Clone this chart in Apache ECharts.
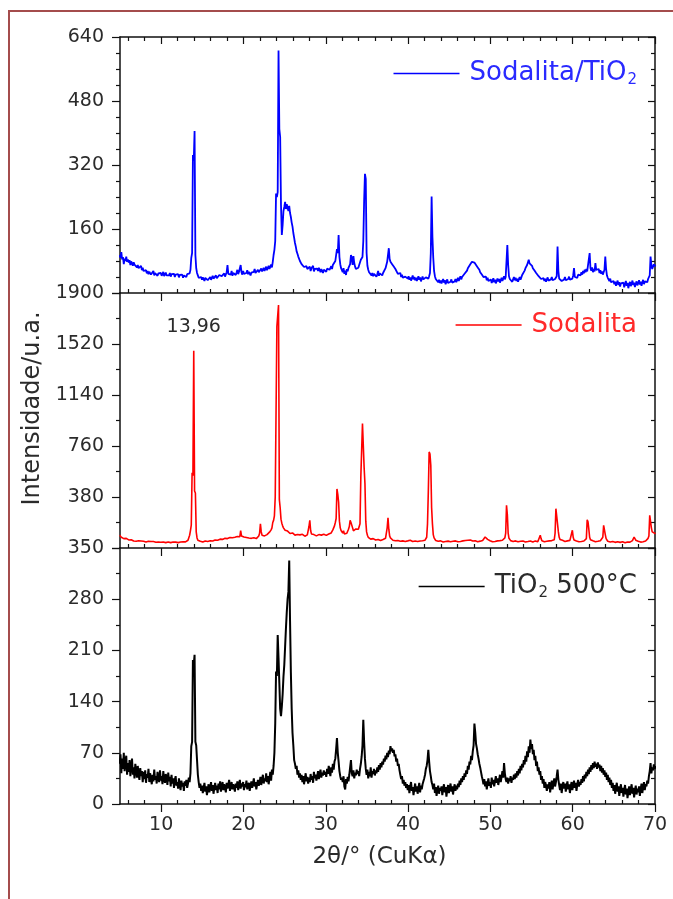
<!DOCTYPE html>
<html>
<head>
<meta charset="utf-8">
<script src="https://cdn.jsdelivr.net/npm/echarts@6/dist/echarts.min.js"></script>
<style>
  html, body { margin: 0; padding: 0; background: #ffffff; }
  #chart { width: 673px; height: 899px; }
</style>
</head>
<body>
<div id="chart"></div>
<script>
// Diffraction angle sampling: first point and step (degrees 2θ)
const twoThetaStart = 4.96;
const twoThetaStep = 0.1;

// Angle ticks
const xMajorTicks = [10, 20, 30, 40, 50, 60, 70];
const xMinorTicks = [6, 8, 12, 14, 16, 18, 22, 24, 26, 28, 32, 34, 36, 38, 42, 44, 46, 48,
                     52, 54, 56, 58, 62, 64, 66, 68];

// Intensity ranges of the three stacked panels (top to bottom)
const yMax = [640, 1900, 350];
const yStep = [160, 380, 70];
const yMinorSplit = [4, 2, 2];

const seriesNames = ['Sodalita/TiO2', 'Sodalita', 'TiO2 500°C'];
const seriesColors = ['#0000ff', '#ff0000', '#000000'];
const legendColors = ['#2a2aff', '#ff2a2a', '#2b2b2b'];

// Labelled sodalite reflection (2θ)
const peakAngle = 13.96;

// Sodalita/TiO2 pattern, one row per degree (x.0 … x.9)
const sodalitaTiO2 = [
  95, 88, 102, 84, 90, 72, 86, 80, 91, 78,       // 5
  84, 76, 82, 70, 79, 74, 68, 77, 71, 66,        // 6
  73, 64, 70, 62, 66, 59, 68, 57, 63, 55,        // 7
  60, 52, 57, 49, 55, 47, 53, 58, 46, 51,        // 8
  48, 55, 44, 50, 46, 53, 43, 49, 52, 45,        // 9
  50, 43, 48, 53, 42, 47, 51, 44, 49, 46,        // 10
  44, 50, 41, 47, 52, 43, 48, 40, 46, 50,        // 11
  42, 47, 39, 45, 49, 41, 46, 38, 44, 48,        // 12
  43, 40, 47, 42, 45, 49, 58, 88, 100, 345,      // 13
  330, 405, 95, 62, 50, 44, 38, 42, 35, 40,      // 14
  33, 39, 36, 30, 38, 34, 41, 32, 37, 35,        // 15
  40, 33, 38, 43, 36, 31, 39, 44, 37, 41,        // 16
  38, 45, 40, 47, 42, 37, 44, 49, 41, 46,        // 17
  52, 70, 48, 44, 51, 46, 55, 43, 50, 47,        // 18
  54, 45, 51, 58, 47, 53, 49, 70, 52, 46,        // 19
  55, 48, 52, 45, 50, 57, 47, 53, 49, 44,        // 20
  51, 56, 48, 53, 60, 50, 55, 47, 58, 52,        // 21
  57, 50, 61, 54, 58, 63, 55, 60, 66, 57,        // 22
  62, 68, 60, 65, 71, 64, 78, 95, 108, 130,      // 23
  249, 240, 252, 606, 410, 390, 220, 145, 170, 205, // 24
  215, 228, 210, 222, 226, 205, 218, 200, 190, 176, // 25
  166, 150, 138, 125, 116, 104, 98, 91, 86, 80,  // 26
  76, 72, 68, 74, 65, 70, 62, 67, 60, 64,        // 27
  58, 66, 55, 62, 57, 68, 54, 60, 64, 56,        // 28
  61, 55, 63, 58, 52, 60, 56, 50, 58, 54,        // 29
  59, 53, 61, 56, 64, 58, 62, 67, 60, 70,        // 30
  66, 74, 80, 95, 110, 100, 145, 90, 72, 62,     // 31
  58, 52, 62, 48, 56, 45, 60, 54, 63, 58,        // 32
  72, 95, 88, 70, 92, 75, 66, 60, 64, 58,        // 33
  63, 70, 75, 83, 78, 90, 130, 230, 298, 285,    // 34
  100, 68, 58, 52, 47, 55, 44, 50, 42, 48,       // 35
  45, 52, 41, 47, 55, 43, 49, 46, 53, 44,        // 36
  50, 47, 55, 62, 70, 78, 82, 112, 85, 78,       // 37
  80, 72, 76, 66, 70, 60, 55, 62, 48, 53,        // 38
  45, 50, 40, 46, 38, 43, 35, 41, 37, 44,        // 39
  36, 42, 33, 39, 31, 37, 44, 34, 40, 32,        // 40
  38, 30, 36, 42, 33, 39, 29, 35, 41, 34,        // 41
  37, 31, 39, 34, 40, 36, 42, 50, 100, 241,      // 42
  140, 88, 55, 42, 35, 30, 38, 27, 33, 25,       // 43
  31, 24, 29, 35, 26, 32, 22, 28, 34, 25,        // 44
  30, 23, 28, 34, 26, 31, 24, 29, 35, 27,        // 45
  32, 38, 30, 36, 42, 34, 40, 45, 38, 48,        // 46
  52, 46, 56, 62, 58, 66, 72, 68, 78, 74,        // 47
  83, 76, 80, 70, 74, 64, 68, 58, 52, 56,        // 48
  46, 50, 40, 44, 36, 41, 32, 38, 30, 35,        // 49
  28, 34, 25, 31, 37, 27, 33, 24, 30, 36,        // 50
  29, 35, 26, 32, 38, 30, 36, 42, 34, 40,        // 51
  45, 120, 70, 42, 35, 30, 37, 28, 34, 40,       // 52
  32, 38, 30, 36, 28, 34, 40, 33, 39, 45,        // 53
  42, 50, 56, 62, 58, 70, 66, 83, 74, 78,        // 54
  72, 68, 62, 66, 56, 60, 50, 54, 46, 42,        // 55
  38, 44, 35, 40, 32, 37, 30, 36, 28, 33,        // 56
  39, 31, 36, 29, 34, 40, 32, 37, 30, 35,        // 57
  33, 42, 116, 55, 36, 31, 38, 30, 35, 28,       // 58
  34, 40, 32, 37, 29, 35, 41, 33, 38, 31,        // 59
  36, 44, 62, 40, 35, 42, 38, 46, 41, 48,        // 60
  44, 52, 46, 55, 49, 58, 52, 60, 54, 50,        // 61
  58, 100, 62, 56, 64, 52, 60, 54, 75, 58,       // 62
  62, 55, 60, 50, 57, 48, 54, 46, 52, 58,        // 63
  91, 60, 44, 38, 34, 30, 36, 27, 32, 25,        // 64
  30, 22, 28, 18, 25, 31, 20, 27, 16, 24,        // 65
  29, 19, 26, 14, 23, 30, 18, 25, 12, 22,        // 66
  28, 17, 24, 31, 20, 26, 15, 23, 29, 19,        // 67
  25, 32, 21, 28, 18, 26, 33, 22, 29, 24,        // 68
  31, 27, 35, 40, 44, 91, 70, 60, 66, 72,        // 69
  70, 66                                         // 70
];

// Sodalita pattern
const sodalita = [
  95, 88, 80, 92, 75, 70, 78, 66, 72, 64,        // 5
  70, 60, 66, 58, 62, 55, 60, 52, 58, 54,        // 6
  50, 56, 48, 54, 50, 46, 52, 48, 45, 50,        // 7
  47, 52, 45, 49, 44, 50, 46, 43, 48, 45,        // 8
  44, 48, 42, 46, 43, 47, 41, 45, 42, 46,        // 9
  43, 47, 41, 45, 42, 46, 40, 44, 42, 45,        // 10
  41, 44, 40, 43, 41, 45, 40, 42, 44, 41,        // 11
  43, 40, 44, 42, 45, 41, 43, 46, 44, 48,        // 12
  46, 50, 52, 58, 70, 95, 130, 170, 560, 540,    // 13
  1470, 425, 410, 120, 75, 58, 52, 48, 50, 45,   // 14
  48, 44, 50, 46, 52, 47, 53, 49, 55, 51,        // 15
  54, 50, 57, 52, 58, 55, 60, 56, 62, 58,        // 16
  63, 59, 66, 61, 68, 64, 70, 66, 72, 68,        // 17
  74, 70, 76, 72, 78, 74, 80, 76, 82, 78,        // 18
  80, 84, 78, 86, 82, 88, 84, 130, 90, 85,       // 19
  88, 82, 90, 84, 78, 86, 80, 74, 82, 76,        // 20
  72, 78, 70, 76, 68, 74, 70, 78, 84, 90,        // 21
  110, 180, 120, 95, 88, 82, 90, 86, 94, 100,    // 22
  105, 112, 118, 126, 135, 150, 190, 206, 240, 380, // 23
  385, 1650, 1660, 1810, 360, 300, 215, 185, 165, 150, // 24
  140, 132, 125, 118, 126, 112, 120, 108, 116, 104, // 25
  112, 100, 108, 96, 104, 92, 100, 95, 103, 98,  // 26
  106, 96, 102, 92, 99, 88, 95, 90, 98, 110,     // 27
  160, 206, 130, 105, 98, 92, 100, 88, 96, 90,   // 28
  98, 92, 100, 94, 88, 96, 90, 98, 102, 95,      // 29
  100, 94, 102, 96, 104, 98, 106, 112, 120, 135, // 30
  150, 165, 190, 220, 440, 400, 343, 200, 150, 130, // 31
  120, 112, 128, 105, 118, 98, 110, 125, 140, 160, // 32
  206, 190, 200, 150, 128, 135, 120, 142, 130, 138, // 33
  140, 150, 180, 530, 540, 928, 930, 600, 480, 200, // 34
  120, 95, 80, 70, 75, 66, 72, 64, 70, 62,       // 35
  68, 60, 66, 58, 64, 57, 62, 56, 61, 58,        // 36
  63, 60, 68, 72, 80, 150, 225, 140, 90, 75,     // 37
  68, 62, 58, 55, 60, 54, 58, 52, 56, 50,        // 38
  55, 50, 54, 48, 53, 47, 52, 49, 54, 48,        // 39
  53, 47, 52, 58, 50, 55, 49, 54, 48, 52,        // 40
  50, 55, 48, 53, 47, 52, 56, 50, 54, 48,        // 41
  53, 58, 65, 80, 180, 420, 716, 700, 617, 300,  // 42
  180, 100, 75, 62, 56, 52, 58, 50, 55, 48,      // 43
  53, 47, 52, 45, 50, 55, 48, 53, 46, 51,        // 44
  49, 54, 47, 52, 45, 50, 55, 48, 53, 47,        // 45
  52, 46, 51, 55, 49, 54, 48, 53, 58, 51,        // 46
  56, 60, 54, 58, 62, 56, 60, 54, 58, 52,        // 47
  56, 50, 54, 48, 53, 47, 52, 46, 51, 55,        // 48
  50, 56, 62, 70, 82, 95, 78, 64, 56, 50,        // 49
  54, 48, 52, 46, 51, 56, 49, 54, 48, 53,        // 50
  57, 50, 55, 60, 54, 58, 62, 68, 75, 110,       // 51
  318, 250, 110, 72, 60, 55, 50, 56, 49, 54,     // 52
  48, 53, 47, 52, 46, 51, 45, 50, 54, 48,        // 53
  52, 46, 51, 45, 50, 55, 48, 53, 47, 52,        // 54
  46, 51, 45, 50, 48, 53, 47, 52, 46, 51,        // 55
  60, 95, 70, 54, 48, 53, 47, 52, 46, 50,        // 56
  54, 48, 53, 47, 52, 55, 50, 56, 62, 110,       // 57
  293, 300, 306, 120, 80, 64, 56, 52, 57, 50,    // 58
  55, 49, 54, 48, 53, 58, 52, 57, 51, 56,        // 59
  132, 80, 60, 54, 49, 53, 48, 52, 47, 51,       // 60
  55, 49, 54, 58, 52, 57, 62, 70, 211, 195,      // 61
  140, 80, 62, 55, 50, 54, 48, 53, 47, 52,       // 62
  56, 50, 55, 49, 54, 58, 64, 80, 169, 165,      // 63
  100, 70, 56, 50, 46, 51, 45, 50, 44, 49,       // 64
  43, 48, 42, 47, 41, 46, 40, 45, 42, 47,        // 65
  41, 46, 40, 45, 39, 44, 40, 45, 42, 47,        // 66
  44, 50, 46, 55, 62, 82, 70, 58, 50, 46,        // 67
  50, 45, 49, 44, 48, 43, 47, 42, 46, 52,        // 68
  58, 66, 72, 90, 244, 230, 150, 120, 112, 108,  // 69
  110, 105                                       // 70
];

// TiO2 calcined at 500 °C
const tio2 = [
  55, 68, 42, 62, 48, 70, 45, 58, 66, 40,        // 5
  56, 44, 60, 38, 52, 62, 40, 50, 35, 55,        // 6
  47, 36, 52, 40, 33, 49, 38, 45, 30, 44,        // 7
  34, 46, 29, 41, 36, 48, 30, 42, 35, 27,        // 8
  40, 31, 47, 33, 38, 28, 44, 35, 30, 46,        // 9
  32, 38, 27, 45, 34, 29, 41, 36, 26, 43,        // 10
  31, 37, 24, 40, 28, 35, 22, 33, 38, 25,        // 11
  30, 21, 35, 26, 19, 32, 24, 29, 18, 31,        // 12
  25, 33, 22, 28, 36, 30, 42, 79, 85, 197,       // 13
  190, 204, 85, 80, 60, 40, 30, 22, 28, 18,      // 14
  25, 15, 22, 29, 17, 24, 12, 20, 27, 16,        // 15
  23, 30, 18, 26, 14, 22, 29, 19, 25, 15,        // 16
  28, 20, 31, 17, 24, 30, 19, 27, 22, 16,        // 17
  29, 21, 26, 33, 18, 25, 30, 20, 27, 23,        // 18
  17, 28, 22, 31, 19, 26, 33, 21, 28, 24,        // 19
  30, 19, 27, 23, 32, 20, 26, 29, 18, 25,        // 20
  31, 22, 28, 35, 24, 30, 20, 27, 33, 25,        // 21
  29, 37, 26, 33, 40, 28, 35, 31, 42, 30,        // 22
  38, 27, 35, 44, 32, 47, 40, 52, 70, 110,       // 23
  181, 175, 231, 200, 165, 130, 120, 133, 150, 174, // 24
  190, 215, 240, 262, 280, 290, 333, 250, 180, 130, // 25
  97, 80, 60, 55, 48, 52, 40, 46, 36, 42,        // 26
  33, 40, 30, 38, 27, 35, 42, 31, 37, 28,        // 27
  36, 30, 41, 33, 38, 29, 44, 35, 40, 32,        // 28
  38, 45, 34, 41, 47, 36, 43, 39, 46, 40,        // 29
  44, 37, 48, 41, 52, 45, 38, 50, 43, 55,        // 30
  47, 58, 62, 75, 90, 70, 58, 45, 38, 33,        // 31
  36, 30, 38, 24, 20, 34, 28, 37, 31, 40,        // 32
  50, 60, 42, 38, 46, 35, 43, 39, 47, 41,        // 33
  45, 38, 48, 55, 65, 80, 115, 85, 62, 48,       // 34
  40, 47, 35, 44, 38, 50, 36, 45, 41, 48,        // 35
  39, 46, 42, 50, 44, 53, 47, 56, 50, 58,        // 36
  54, 62, 58, 66, 61, 70, 64, 73, 68, 79,        // 37
  72, 76, 70, 74, 65, 68, 58, 62, 52, 55,        // 38
  46, 40, 34, 38, 28, 33, 25, 30, 22, 27,        // 39
  19, 26, 15, 24, 30, 18, 23, 12, 21, 28,        // 40
  17, 24, 14, 22, 29, 16, 25, 20, 27, 31,        // 41
  35, 40, 48, 52, 60, 74, 58, 45, 38, 30,        // 42
  26, 20, 28, 15, 23, 11, 19, 25, 14, 22,        // 43
  18, 24, 12, 21, 27, 16, 23, 10, 20, 26,        // 44
  15, 22, 28, 17, 24, 13, 21, 27, 18, 25,        // 45
  20, 28, 23, 32, 26, 35, 30, 38, 33, 42,        // 46
  37, 46, 41, 52, 47, 58, 54, 66, 60, 72,        // 47
  80, 110, 98, 82, 76, 68, 62, 55, 50, 44,       // 48
  38, 33, 27, 34, 24, 31, 20, 28, 35, 25,        // 49
  30, 22, 36, 27, 33, 24, 31, 38, 29, 35,        // 50
  26, 33, 40, 30, 37, 45, 36, 56, 42, 34,        // 51
  30, 36, 28, 35, 31, 38, 29, 36, 33, 40,        // 52
  34, 42, 36, 45, 39, 48, 42, 52, 46, 55,        // 53
  50, 60, 54, 66, 58, 72, 64, 79, 70, 88,        // 54
  75, 82, 68, 74, 60, 66, 52, 58, 45, 50,        // 55
  40, 45, 33, 38, 28, 34, 22, 30, 25, 18,        // 56
  27, 21, 30, 16, 25, 32, 20, 28, 35, 24,        // 57
  30, 38, 47, 33, 26, 19, 28, 15, 24, 30,        // 58
  21, 28, 17, 25, 31, 20, 27, 15, 24, 30,        // 59
  19, 26, 32, 22, 29, 18, 27, 33, 24, 30,        // 60
  26, 34, 29, 38, 31, 40, 35, 44, 38, 47,        // 61
  41, 50, 44, 53, 47, 56, 49, 58, 51, 55,        // 62
  48, 57, 50, 54, 45, 52, 43, 49, 40, 46,        // 63
  37, 43, 33, 40, 30, 36, 26, 33, 22, 29,        // 64
  18, 26, 14, 23, 29, 17, 24, 11, 20, 27,        // 65
  15, 22, 10, 19, 26, 13, 21, 8, 17, 24,         // 66
  12, 20, 27, 14, 22, 9, 18, 25, 13, 21,         // 67
  16, 24, 11, 20, 28, 15, 23, 30, 19, 27,        // 68
  24, 32, 28, 38, 45, 56, 42, 50, 46, 54,        // 69
  48, 52                                         // 70
];

const FONT = 'DejaVu Sans';
const AXIS_COLOR = '#111111';
const TEXT_COLOR = '#2b2b2b';

// Panel boxes in pixels (left/right shared)
const panels = [
  { top: 37, height: 256 },
  { top: 293, height: 255 },
  { top: 548, height: 256 }
];
const legendTops = [59, 312, 572];

function toPairs(values) {
  return values.map((v, i) => [Math.round((twoThetaStart + i * twoThetaStep) * 100) / 100, v]);
}

const axisLineStyle = { color: AXIS_COLOR, width: 1.5 };
const tickLineStyle = { color: AXIS_COLOR, width: 1.2 };

const grids = panels.map(p => ({ left: 120, right: 18, top: p.top, height: p.height, containLabel: false }));

const xAxes = [];
const mainX = [];
panels.forEach((p, gi) => {
  mainX[gi] = xAxes.length;
  xAxes.push({
    type: 'value', gridIndex: gi, position: 'bottom', min: 5, max: 70,
    axisLine: { show: true, onZero: false, lineStyle: axisLineStyle },
    axisTick: { show: true, inside: false, length: 8, customValues: xMajorTicks, lineStyle: tickLineStyle },
    axisLabel: { show: gi === 2, customValues: xMajorTicks, margin: 12, fontSize: 19, fontFamily: FONT, color: TEXT_COLOR },
    splitLine: { show: false },
    name: gi === 2 ? '2θ/° (CuKα)' : '',
    nameLocation: 'middle', nameGap: 42,
    nameTextStyle: { fontSize: 23, fontFamily: FONT, color: TEXT_COLOR, padding: [0, 16, 0, 0] }
  });
  xAxes.push({
    type: 'value', gridIndex: gi, position: 'bottom', min: 5, max: 70,
    axisLine: { show: false, onZero: false },
    axisTick: { show: true, inside: true, length: 4, customValues: xMinorTicks, lineStyle: tickLineStyle },
    axisLabel: { show: false }, splitLine: { show: false }
  });
  if (gi === 0) {
    xAxes.push({
      type: 'value', gridIndex: gi, position: 'top', min: 5, max: 70,
      axisLine: { show: true, onZero: false, lineStyle: axisLineStyle },
      axisTick: { show: true, inside: true, length: 7, customValues: xMajorTicks, lineStyle: tickLineStyle },
      axisLabel: { show: false }, splitLine: { show: false }
    });
    xAxes.push({
      type: 'value', gridIndex: gi, position: 'top', min: 5, max: 70,
      axisLine: { show: false, onZero: false },
      axisTick: { show: true, inside: true, length: 4, customValues: xMinorTicks, lineStyle: tickLineStyle },
      axisLabel: { show: false }, splitLine: { show: false }
    });
  }
});

const yAxes = [];
panels.forEach((p, gi) => {
  yAxes.push({
    type: 'value', gridIndex: gi, position: 'left', min: 0, max: yMax[gi], interval: yStep[gi],
    axisLine: { show: true, onZero: false, lineStyle: axisLineStyle },
    axisTick: { show: true, inside: false, length: 8, lineStyle: tickLineStyle },
    minorTick: { show: true, splitNumber: yMinorSplit[gi], length: 4, lineStyle: tickLineStyle },
    axisLabel: {
      showMinLabel: gi === 2, showMaxLabel: true, margin: 16,
      fontSize: 19, fontFamily: FONT, color: TEXT_COLOR,
      formatter: v => String(v)
    },
    splitLine: { show: false },
    name: gi === 1 ? 'Intensidade/u.a.' : '',
    nameLocation: 'middle', nameGap: 66,
    nameTextStyle: { fontSize: 24, fontFamily: FONT, color: TEXT_COLOR, padding: [0, 0, 0, 24] }
  });
  yAxes.push({
    type: 'value', gridIndex: gi, position: 'right', min: 0, max: yMax[gi], interval: yStep[gi],
    axisLine: { show: true, onZero: false, lineStyle: axisLineStyle },
    axisTick: { show: true, inside: true, length: 7, lineStyle: tickLineStyle },
    minorTick: { show: true, splitNumber: yMinorSplit[gi], length: 4, lineStyle: tickLineStyle },
    axisLabel: { show: false }, splitLine: { show: false }
  });
});

const legendText = {
  'Sodalita/TiO2': '{t|Sodalita/TiO}{s|2}',
  'Sodalita': '{t|Sodalita}',
  'TiO2 500°C': '{t|TiO}{s|2}{t| 500°C}'
};

const legends = seriesNames.map((name, gi) => ({
  data: [{ name: name, icon: 'rect' }],
  right: 36, top: legendTops[gi], padding: 0,
  itemWidth: 66, itemHeight: 1.6,
  selectedMode: false,
  formatter: n => legendText[n],
  textStyle: {
    padding: [0, 0, 0, 5],
    rich: {
      t: { fontSize: 26, lineHeight: 30, fontFamily: FONT, color: legendColors[gi] },
      s: { fontSize: 15, lineHeight: 15, padding: [14, 0, 0, 1], fontFamily: FONT, color: legendColors[gi] }
    }
  }
}));

const peakIndex = Math.round((peakAngle - twoThetaStart) / twoThetaStep);
const lineWidths = [1.8, 1.6, 2.0];

const seriesData = [sodalitaTiO2, sodalita, tio2];
const series = seriesData.map((vals, gi) => {
  const pairs = toPairs(vals);
  const s = {
    type: 'line', name: seriesNames[gi],
    xAxisIndex: mainX[gi], yAxisIndex: gi * 2,
    data: pairs,
    symbol: 'none', showSymbol: false,
    lineStyle: { color: seriesColors[gi], width: lineWidths[gi] },
    itemStyle: { color: seriesColors[gi] },
    clip: true, silent: true
  };
  if (gi === 1) {
    s.markPoint = {
      symbol: 'circle', symbolSize: 1,
      itemStyle: { color: 'rgba(0,0,0,0)' },
      label: {
        show: true, position: 'top', distance: 14,
        fontSize: 19, fontFamily: FONT, color: TEXT_COLOR,
        formatter: () => peakAngle.toFixed(2).replace('.', ',')
      },
      data: [{ coord: [pairs[peakIndex][0], vals[peakIndex]] }]
    };
  }
  return s;
});

const chart = echarts.init(document.getElementById('chart'), null, { renderer: 'canvas' });
chart.setOption({
  animation: false,
  backgroundColor: '#ffffff',
  grid: grids,
  xAxis: xAxes,
  yAxis: yAxes,
  legend: legends,
  series: series,
  graphic: [{
    type: 'rect', silent: true,
    shape: { x: 9, y: 11, width: 700, height: 900 },
    style: { fill: 'none', stroke: '#a44c4c', lineWidth: 2 }
  }]
});
</script>
</body>
</html>
